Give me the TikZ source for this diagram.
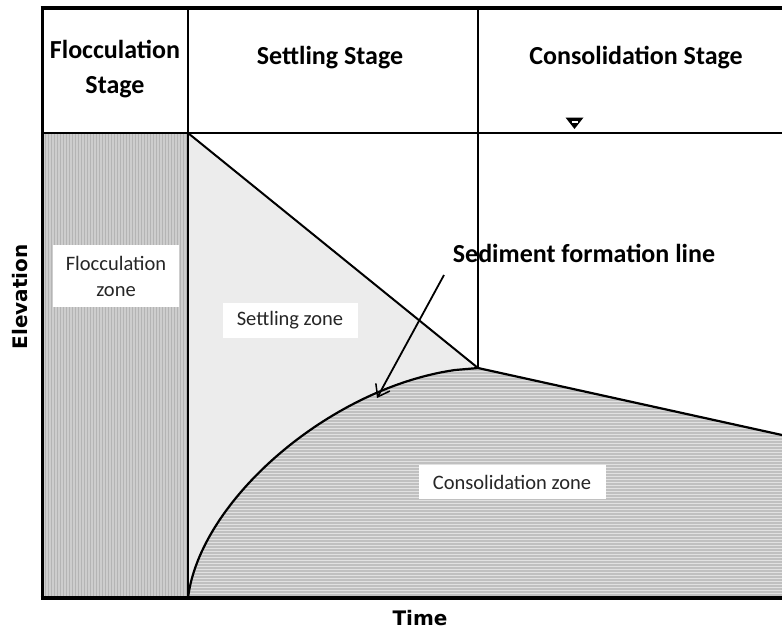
\documentclass[tikz,border=0pt]{standalone}
\usepackage{fontspec}
\setmainfont{Carlito}
\newfontfamily\heavyfont{DejaVu Sans}
\usetikzlibrary{patterns,arrows.meta}
\definecolor{floccgray}{RGB}{205,205,205}
\definecolor{floccline}{RGB}{180,180,180}
\definecolor{settlegray}{RGB}{236,236,236}
\definecolor{consgray}{RGB}{192,192,192}
\definecolor{consline}{RGB}{225,225,225}
\tikzset{
  frame/.style={line width=2pt, black},
  heavyframe/.style={line width=3.5pt, black},
  stagehead/.style={font=\bfseries\fontsize{26}{29}\selectfont, align=center, inner sep=0pt},
  zonelabel/.style={font=\fontsize{20.5}{26}\selectfont, fill=white, align=center, text=black!85},
  axislabel/.style={font=\heavyfont\bfseries\fontsize{20}{23}\selectfont, inner sep=0pt},
}
\begin{document}
\begin{tikzpicture}[x=1pt, y=-1pt]
\useasboundingbox (0,0) rectangle (782,633);

% key points of the plot
\coordinate (tl) at (42,8);
\coordinate (hs) at (188,133);   % start of settling at header line
\coordinate (b0) at (188,598);   % foot of sediment formation line
\coordinate (apex) at (478,368); % end of settling
\coordinate (re) at (782,435);   % right end of consolidation surface

% flocculation zone
\fill[floccgray] (42,133) rectangle (188,598);
\fill[pattern=vertical lines, pattern color=floccline] (42,133) rectangle (188,598);

% settling zone
\fill[settlegray] (hs) -- (apex) -- (455,370)
   .. controls (330,388) and (200,500) .. (b0) -- cycle;

% consolidation zone
\fill[consgray] (b0) .. controls (200,500) and (330,388) .. (455,370)
   -- (apex) -- (re) -- (782,598) -- cycle;
\fill[pattern=horizontal lines, pattern color=consline] (b0) .. controls (200,500) and (330,388) .. (455,370)
   -- (apex) -- (re) -- (782,598) -- cycle;

% boundaries
\draw[line width=2.2pt, line join=round] (b0) .. controls (200,500) and (330,388) .. (455,370)
   -- (apex) -- (re);
\draw[line width=2pt] (hs) -- (apex);
\draw[frame] (188,8) -- (b0);
\draw[frame] (478,8) -- (apex);
\draw[frame] (42,133) -- (782,133);
\draw[heavyframe] (40.5,8) -- (782,8);
\draw[line width=3pt] (tl) -- (42,599.5);
\draw[heavyframe] (40.5,598) -- (782,598);

% water level mark
\fill[black] (565.5,117.5) -- (583.5,117.5) -- (574.5,129) -- cycle;
\draw[white, line width=1.2pt] (571.5,122) -- (577.5,122);

% stage headings
\node[stagehead] (hfloc) at (115,69) {Flocculation\\[6pt]Stage};
\node[stagehead] (hsettle) at (330,58) {Settling Stage};
\node[stagehead] (hcons) at (636,58) {Consolidation Stage};

% zone labels
\node[zonelabel, minimum width=126pt, minimum height=62pt, inner sep=1pt] (zfloc) at (116,276) {Flocculation\\zone};
\node[zonelabel, minimum width=135pt, minimum height=35pt] (zsettle) at (290,320) {Settling zone};
\node[zonelabel, minimum width=187pt, minimum height=34pt] (zcons) at (512,482) {Consolidation zone};

% sediment formation line callout
\node[font=\bfseries\fontsize{26}{29}\selectfont, inner sep=0pt] (sfl) at (584,253) {Sediment formation line};
\coordinate (sflstart) at (444,275);
\coordinate (sflend) at (377,398);
\draw[line width=1.8pt, -{Straight Barb[length=11pt,width=16pt,line width=1.5pt]}] (sflstart) -- (sflend);

% axis labels
\node[axislabel, rotate=90] (elev) at (20,297) {Elevation};
\node[axislabel] (time) at (420,618) {Time};
\end{tikzpicture}
\end{document}
